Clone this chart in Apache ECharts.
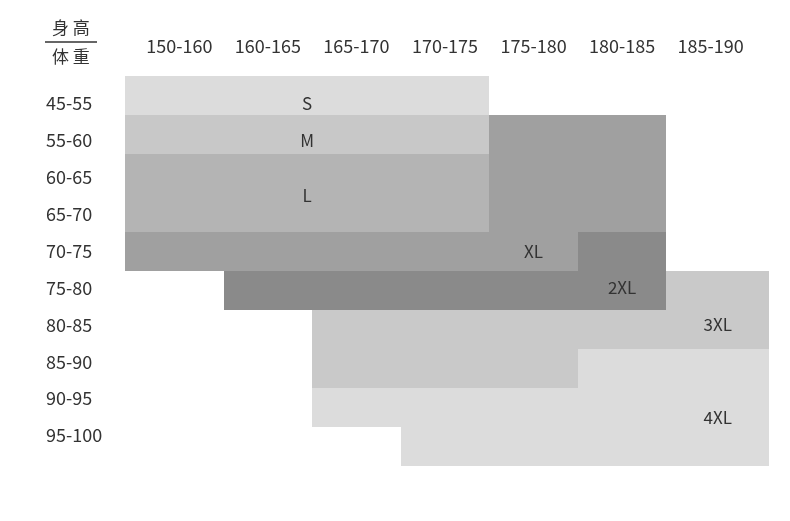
<!DOCTYPE html>
<html>
<head>
<meta charset="utf-8">
<style>
  html, body { margin: 0; padding: 0; background: #fff; }
  #main { width: 790px; height: 521px; }
</style>
<script src="https://cdn.jsdelivr.net/npm/echarts@6/dist/echarts.min.js"></script>
</head>
<body>
<div id="main"></div>
<script>
const heights = ["150-160", "160-165", "165-170", "170-175", "175-180", "180-185", "185-190"];
const weights = ["45-55", "55-60", "60-65", "65-70", "70-75", "75-80", "80-85", "85-90", "90-95", "95-100"];
const sizes = ["S", "M", "L", "XL", "2XL", "3XL", "4XL"];

// size for each weight row (top to bottom) and height column ("" = empty)
const sizeTable = [
  ["S", "S", "S", "S", "", "", ""],
  ["M", "M", "M", "M", "XL", "XL", ""],
  ["L", "L", "L", "L", "XL", "XL", ""],
  ["L", "L", "L", "L", "XL", "XL", ""],
  ["XL", "XL", "XL", "XL", "XL", "2XL", ""],
  ["", "2XL", "2XL", "2XL", "2XL", "2XL", "3XL"],
  ["", "", "3XL", "3XL", "3XL", "3XL", "3XL"],
  ["", "", "3XL", "3XL", "3XL", "4XL", "4XL"],
  ["", "", "4XL", "4XL", "4XL", "4XL", "4XL"],
  ["", "", "", "4XL", "4XL", "4XL", "4XL"],
];

// cells where each size name is written: [first col, last col, first row, last row]
const labelSpans = [
  [0, 3, 0, 0],
  [0, 3, 1, 1],
  [0, 3, 2, 3],
  [4, 4, 4, 4],
  [5, 5, 5, 5],
  [6, 6, 6, 6],
  [6, 6, 8, 9],
];

const sizeColors = {
  S: "#dcdcdc",
  M: "#c8c8c8",
  L: "#b4b4b4",
  XL: "#a0a0a0",
  "2XL": "#8a8a8a",
  "3XL": "#c9c9c9",
  "4XL": "#dcdcdc",
};

const EDGE_LEFT = 10; // first and last columns stick out a little
const EDGE_RIGHT = 14;
const textColor = "#333";
const font = "Noto Sans CJK SC";

const cells = [];
sizeTable.forEach(function (row, r) {
  row.forEach(function (s, c) {
    if (s) cells.push([c, r, sizes.indexOf(s)]);
  });
});

function colEdges(api, c0, c1) {
  const w = api.size([1, 1])[0];
  let x0 = api.coord([c0, 0])[0] - w / 2;
  let x1 = api.coord([c1, 0])[0] + w / 2;
  if (c0 === 0) x0 -= EDGE_LEFT;
  if (c1 === heights.length - 1) x1 += EDGE_RIGHT;
  return [x0, x1];
}

var chart = echarts.init(document.getElementById("main"));
option = {
  animation: false,
  grid: [
    { left: 135, right: 35, top: 76, bottom: 55 },
    { left: 135, right: 35, top: 85, bottom: 67 },
  ],
  xAxis: [
    {
      type: "category",
      gridIndex: 0,
      data: heights,
      position: "top",
      axisLine: { show: false },
      axisTick: { show: false },
      axisLabel: { color: textColor, fontSize: 18, fontFamily: font, margin: 21 },
    },
    { type: "category", gridIndex: 1, data: heights, show: false },
  ],
  yAxis: [
    { type: "category", gridIndex: 0, data: weights, inverse: true, show: false },
    {
      type: "category",
      gridIndex: 1,
      data: weights,
      inverse: true,
      axisLine: { show: false },
      axisTick: { show: false },
      axisLabel: { color: textColor, fontSize: 18, fontFamily: font, align: "left", margin: 89 },
    },
  ],
  series: [
    {
      type: "custom",
      xAxisIndex: 0,
      yAxisIndex: 0,
      data: cells,
      renderItem: function (params, api) {
        const c = api.value(0);
        const r = api.value(1);
        const h = api.size([1, 1])[1];
        const xs = colEdges(api, c, c);
        const cy = api.coord([c, r])[1];
        const x0 = Math.round(xs[0]);
        const x1 = Math.round(xs[1]);
        const y0 = Math.round(cy - h / 2);
        const y1 = Math.round(cy + h / 2);
        return {
          type: "rect",
          shape: { x: x0, y: y0, width: x1 - x0, height: y1 - y0 },
          style: { fill: sizeColors[sizes[api.value(2)]] },
        };
      },
    },
    {
      type: "custom",
      xAxisIndex: 1,
      yAxisIndex: 1,
      data: labelSpans,
      encode: { x: [0, 1], y: [2, 3] },
      z: 3,
      renderItem: function (params, api) {
        const span = labelSpans[params.dataIndex];
        const xs = colEdges(api, span[0], span[1]);
        const ya = api.coord([0, span[2]])[1];
        const yb = api.coord([0, span[3]])[1];
        return {
          type: "text",
          style: {
            x: (xs[0] + xs[1]) / 2,
            y: (ya + yb) / 2,
            text: sizes[params.dataIndex],
            align: "center",
            verticalAlign: "middle",
            fill: textColor,
            font: "17px '" + font + "'",
          },
        };
      },
    },
  ],
  graphic: [
    {
      type: "text",
      left: 52,
      top: 19,
      style: { text: "身 高", fill: textColor, font: "17px '" + font + "'" },
    },
    {
      type: "line",
      shape: { x1: 45, y1: 42, x2: 97, y2: 42 },
      style: { stroke: textColor, lineWidth: 1.5 },
    },
    {
      type: "text",
      left: 52,
      top: 48,
      style: { text: "体 重", fill: textColor, font: "17px '" + font + "'" },
    },
  ],
};
chart.setOption(option);
</script>
</body>
</html>
